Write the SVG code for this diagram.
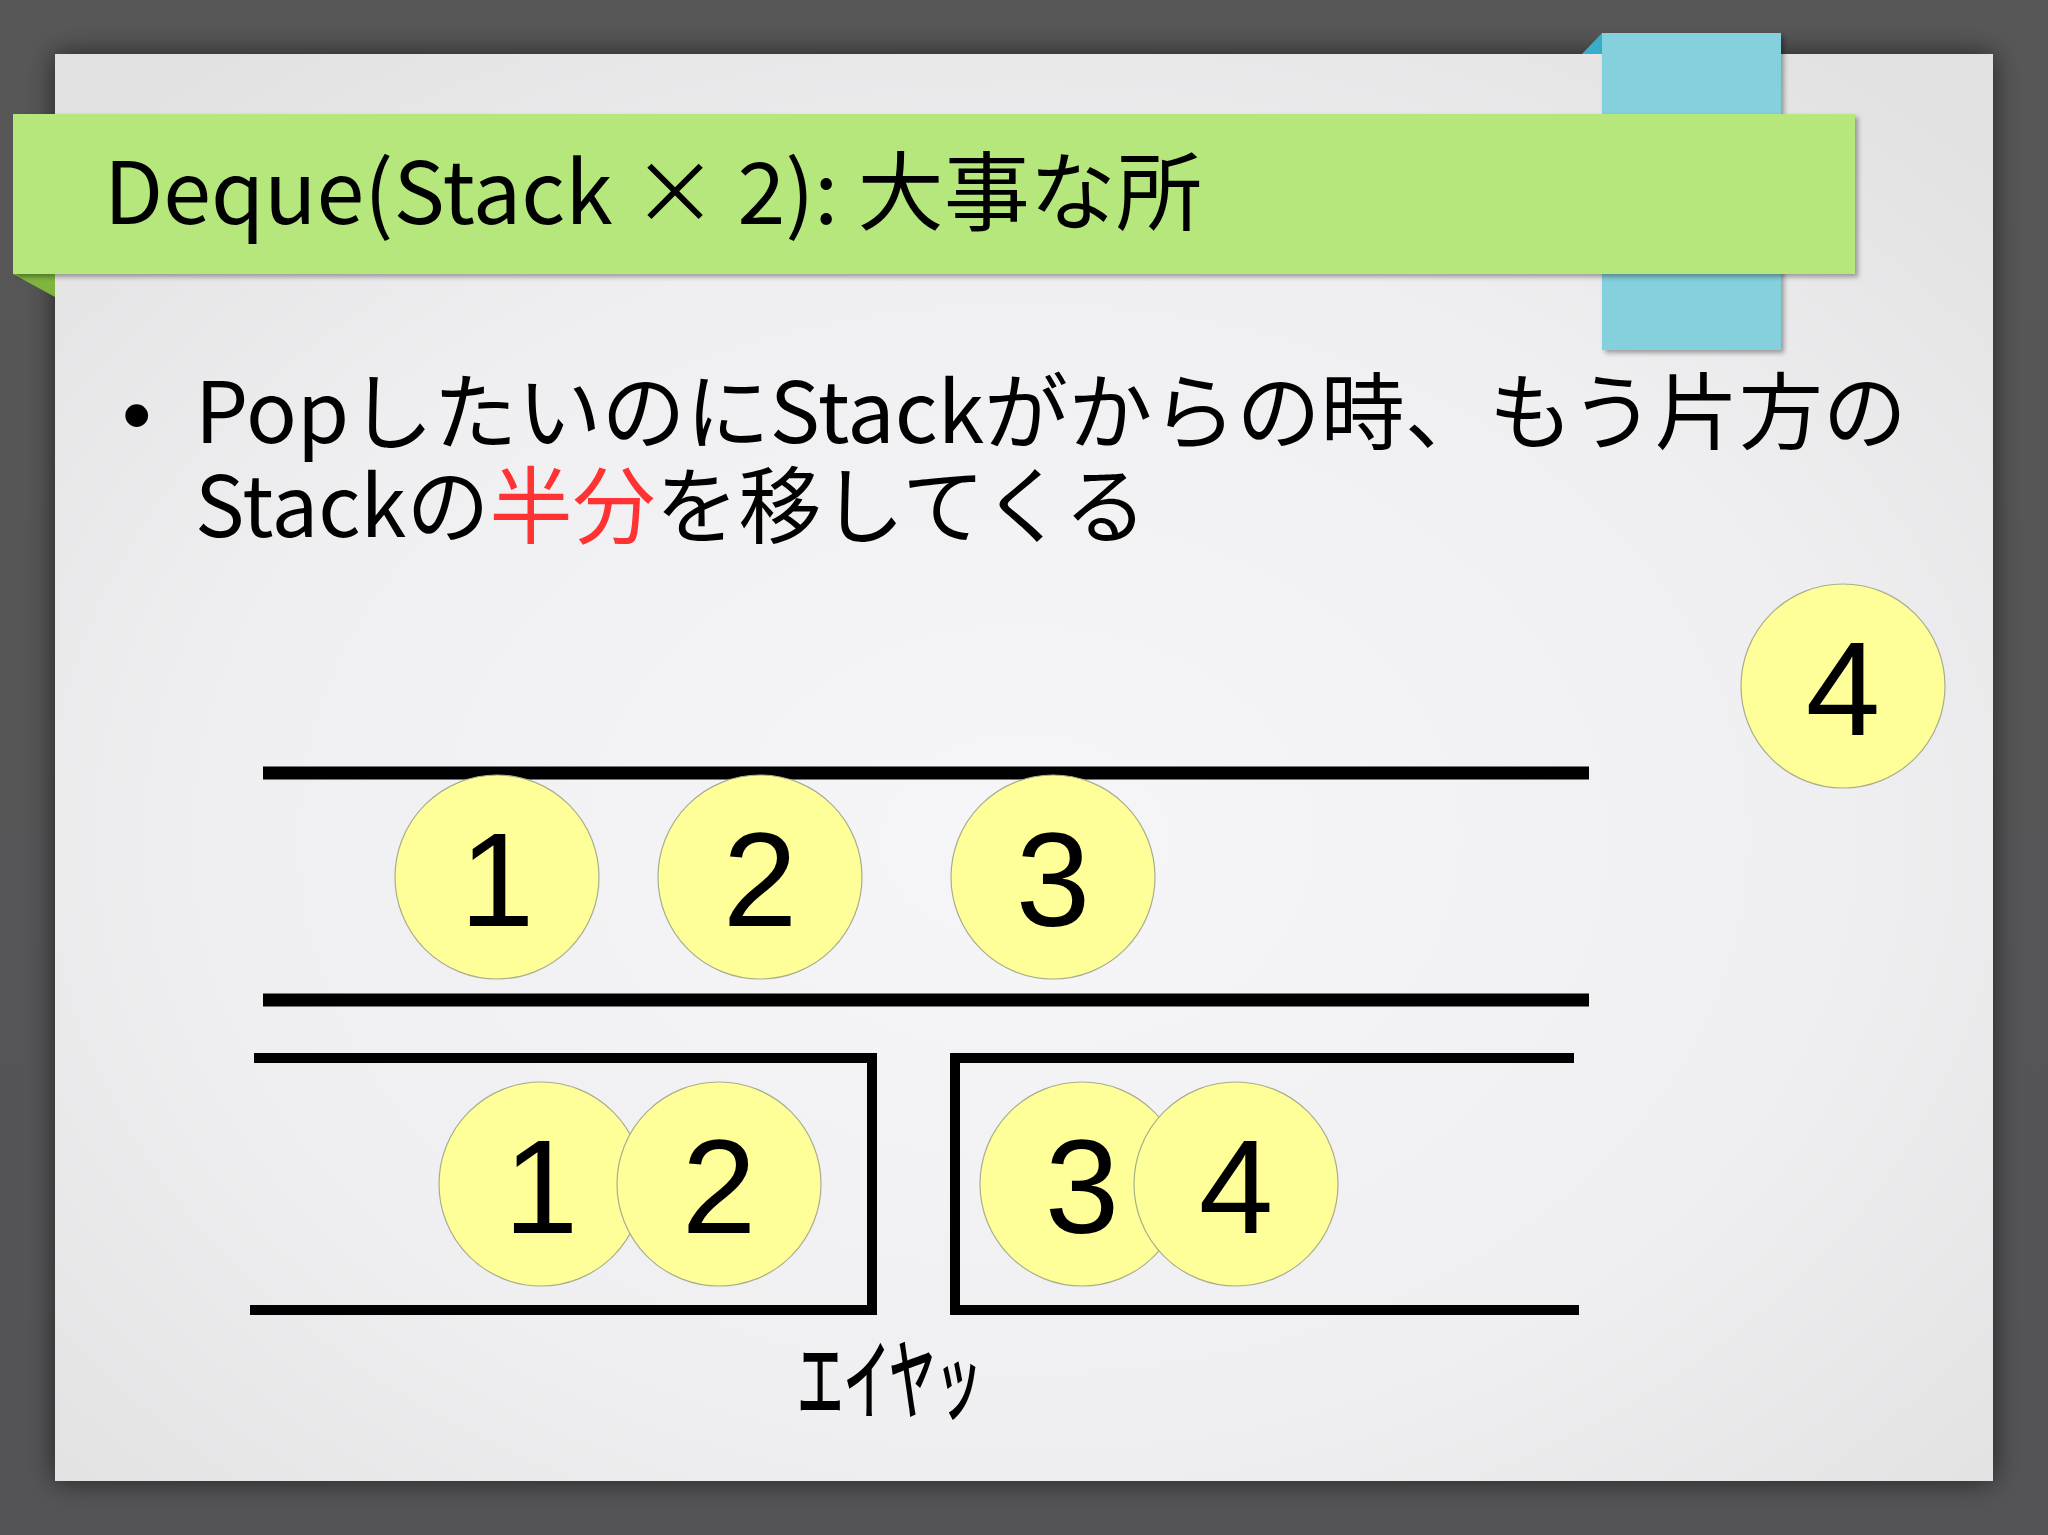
<svg xmlns="http://www.w3.org/2000/svg" width="2048" height="1535" viewBox="0 0 2048 1535">
<defs>
<radialGradient id="slideg" cx="0.5" cy="0.55" r="0.7">
<stop offset="0" stop-color="#f6f6f8"/>
<stop offset="0.6" stop-color="#efeff1"/>
<stop offset="1" stop-color="#e1e1e2"/>
</radialGradient>
<linearGradient id="bgg" x1="0" y1="0" x2="0" y2="1">
<stop offset="0" stop-color="#575757"/>
<stop offset="1" stop-color="#545356"/>
</linearGradient>
<filter id="sh" x="-5%" y="-5%" width="110%" height="110%">
<feGaussianBlur in="SourceAlpha" stdDeviation="14"/>
<feOffset dx="0" dy="0" result="b"/>
<feComponentTransfer><feFuncA type="linear" slope="0.6"/></feComponentTransfer>
<feMerge><feMergeNode/><feMergeNode in="SourceGraphic"/></feMerge>
</filter>
<filter id="sh2" x="-5%" y="-20%" width="110%" height="140%">
<feGaussianBlur in="SourceAlpha" stdDeviation="2.5"/>
<feOffset dx="3" dy="3"/>
<feComponentTransfer><feFuncA type="linear" slope="0.35"/></feComponentTransfer>
<feMerge><feMergeNode/><feMergeNode in="SourceGraphic"/></feMerge>
</filter>
<style>
.ball{fill:#ffff99;stroke:#a8ad8c;stroke-width:1.2}
.num{font-family:"Liberation Sans",Arial,sans-serif;font-size:134px;fill:#000;text-anchor:middle}
.jp{font-family:"Noto Sans CJK JP","Noto Sans",sans-serif;fill:#000}
.bar{stroke:#000;stroke-width:13;fill:none}
.box{stroke:#000;stroke-width:10;fill:none;stroke-linejoin:miter}
</style>
</defs>
<rect x="0" y="0" width="2048" height="1535" fill="url(#bgg)"/>
<rect x="55" y="54" width="1938" height="1427" fill="url(#slideg)" filter="url(#sh)"/>

<g id="ribbon">
<polygon points="1582,54 1602,33 1602,54" fill="#3aaec8"/>
<rect x="1602" y="33" width="179" height="317" fill="#84d0dc" filter="url(#sh2)"/>
</g>
<g id="title">
<polygon points="13,274 55,274 55,297" fill="#7fb53e"/>
<rect x="13" y="114" width="1842" height="160" fill="#b5e77c" filter="url(#sh2)"/>
<text class="jp" x="104" y="224" font-size="86" textLength="1098" lengthAdjust="spacingAndGlyphs">Deque(Stack × 2): 大事な所</text>
</g>

<g id="bullet">
<text x="122" y="443" font-family="Liberation Sans,Arial,sans-serif" font-size="84" fill="#000">•</text>
<text class="jp" x="195" y="443" font-size="84" textLength="1712" lengthAdjust="spacingAndGlyphs">PopしたいのにStackがからの時、もう片方の</text>
<text class="jp" x="195" y="537" font-size="84" textLength="952" lengthAdjust="spacingAndGlyphs">Stackの<tspan fill="#ff3333">半分</tspan>を移してくる</text>
</g>

<g id="connectors">
<line class="bar" x1="263" y1="773" x2="1589" y2="773"/>
<line class="bar" x1="263" y1="1000" x2="1589" y2="1000"/>
<polyline class="box" points="254,1058 872,1058 872,1310 250,1310"/>
<polyline class="box" points="1574,1058 955,1058 955,1310 1579,1310"/>
</g>

<g id="top1"><circle class="ball" cx="497" cy="877" r="102"/><text class="num" x="497" y="926">1</text></g>
<g id="top2"><circle class="ball" cx="760" cy="877" r="102"/><text class="num" x="760" y="926">2</text></g>
<g id="top3"><circle class="ball" cx="1053" cy="877" r="102"/><text class="num" x="1053" y="926">3</text></g>
<g id="float4"><circle class="ball" cx="1843" cy="686" r="102"/><text class="num" x="1843" y="735">4</text></g>

<g id="bot1"><circle class="ball" cx="541" cy="1184" r="102"/><text class="num" x="541" y="1233">1</text></g>
<g id="bot2"><circle class="ball" cx="719" cy="1184" r="102"/><text class="num" x="719" y="1233">2</text></g>
<g id="bot3"><circle class="ball" cx="1082" cy="1184" r="102"/><text class="num" x="1082" y="1233">3</text></g>
<g id="bot4"><circle class="ball" cx="1236" cy="1184" r="102"/><text class="num" x="1236" y="1233">4</text></g>

<g id="label">
<text class="jp" x="797" y="1412" font-size="88" font-weight="500" textLength="185" lengthAdjust="spacingAndGlyphs">エイヤッ</text>
</g>
</svg>
